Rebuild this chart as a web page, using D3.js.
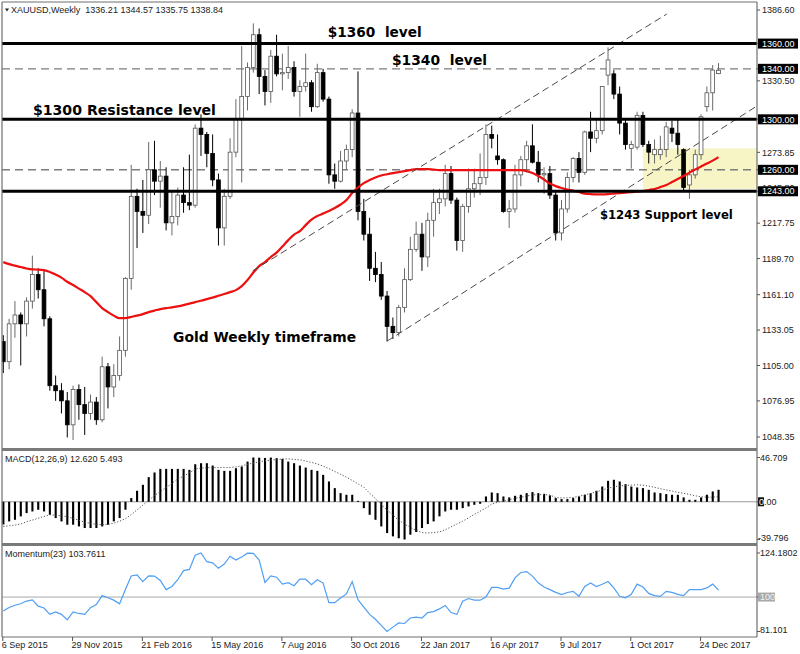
<!DOCTYPE html>
<html><head><meta charset="utf-8">
<script src="https://cdn.jsdelivr.net/npm/d3@7/dist/d3.min.js"></script>
<style>body{margin:0;background:#fff;}svg{display:block;}</style>
</head><body>
<svg id="c" width="800" height="654"></svg>
<script>
// ---------------- DATA ----------------
const symbolTitle = "XAUUSD,Weekly  1336.21 1344.57 1335.75 1338.84";
const openP = [1124,1108,1138,1145,1138,1156,1177,1165,1142,1089,
 1085,1077,1058,1086,1074,1067,1076,1062,1104,1088,
 1097,1117,1174,1239,1227,1224,1260,1251,1255,1218,
 1223,1240,1234,1232,1293,1288,1273,1252,1214,1239,
 1274,1300,1318,1341,1367,1334,1322,1350,1336,1337,
 1341,1322,1326,1329,1310,1337,1316,1256,1251,1267,
 1276,1305,1227,1209,1182,1177,1160,1136,1131,1151,
 1173,1197,1209,1191,1220,1234,1237,1257,1236,1204,
 1231,1245,1249,1254,1288,1271,1268,1227,1229,1256,
 1268,1279,1266,1256,1257,1240,1210,1229,1254,1269,
 1258,1290,1285,1291,1335,1336,1320,1297,1277,1278,
 1303,1280,1272,1272,1276,1293,1289,1276,1248,1256,
 1272,1310,1321,1336.21];
const highP = [1129,1142,1156,1147,1159,1192,1182,1180,1144,1097,
 1091,1084,1089,1090,1088,1082,1080,1112,1107,1106,
 1128,1175,1264,1245,1252,1282,1283,1267,1262,1244,
 1246,1262,1272,1296,1304,1290,1288,1257,1245,1285,
 1316,1358,1345,1376,1372,1339,1355,1367,1352,1358,
 1346,1331,1352,1331,1344,1340,1318,1265,1275,1280,
 1308,1338,1237,1222,1195,1187,1164,1143,1153,1182,
 1207,1219,1218,1226,1245,1245,1264,1263,1238,1233,
 1261,1261,1273,1296,1295,1288,1269,1236,1264,1271,
 1283,1296,1275,1262,1263,1243,1236,1258,1270,1274,
 1291,1306,1300,1326,1357,1339,1326,1300,1283,1306,
 1306,1283,1284,1287,1298,1299,1300,1277,1260,1276,
 1304,1326,1343,1344.57];
const lowP = [1099,1102,1127,1105,1128,1150,1158,1136,1085,1077,
 1067,1048,1046,1062,1050,1062,1058,1060,1071,1080,
 1093,1112,1165,1198,1210,1217,1240,1230,1212,1208,
 1216,1226,1228,1230,1271,1262,1247,1200,1200,1237,
 1270,1250,1307,1337,1320,1311,1313,1334,1323,1332,
 1318,1302,1322,1306,1309,1314,1249,1245,1250,1260,
 1270,1220,1204,1172,1171,1157,1124,1126,1128,1147,
 1172,1195,1180,1183,1207,1225,1231,1233,1196,1195,
 1226,1238,1240,1248,1277,1264,1226,1214,1226,1247,
 1258,1265,1250,1241,1237,1204,1204,1226,1250,1250,
 1256,1274,1281,1288,1327,1316,1288,1276,1261,1276,
 1278,1265,1265,1268,1270,1282,1272,1243,1237,1253,
 1268,1306,1307,1335.75];
const closeP = [1108,1138,1145,1138,1156,1177,1165,1142,1089,1085,
 1077,1058,1086,1074,1067,1076,1062,1104,1088,1097,
 1117,1174,1239,1227,1224,1260,1251,1255,1218,1223,
 1240,1234,1232,1293,1288,1273,1252,1214,1239,1274,
 1300,1318,1341,1367,1334,1322,1350,1336,1337,1341,
 1322,1326,1329,1310,1337,1316,1256,1251,1267,1276,
 1305,1227,1209,1182,1177,1160,1136,1131,1151,1173,
 1197,1209,1191,1220,1234,1237,1257,1236,1204,1231,
 1245,1249,1254,1288,1285,1268,1227,1229,1256,1268,
 1279,1266,1256,1257,1240,1210,1229,1254,1269,1258,
 1290,1285,1291,1326,1347,1320,1297,1280,1280,1303,
 1280,1274,1276,1276,1294,1289,1280,1246,1256,1272,
 1302,1321,1339,1338.84];
const maValues = [1186.9,1185.3,1184.1,1183.0,1181.8,1181.1,1181.0,1180.6,1179.0,1177.0,
 1174.6,1171.3,1168.7,1165.9,1163.1,1160.0,1155.2,1150.5,1147.3,1144.5,
 1142.5,1142.5,1143.5,1144.5,1145.7,1147.3,1148.5,1149.7,1150.5,1151.0,
 1151.8,1152.8,1154.0,1155.2,1156.3,1157.6,1158.8,1160.2,1161.6,1163.1,
 1164.7,1167.9,1172.7,1178.6,1183.7,1186.9,1190.9,1194.4,1199.2,1204.3,
 1208.7,1211.5,1216.2,1220.6,1223.4,1225.3,1227.3,1229.7,1232.5,1236.0,
 1241.6,1246.0,1249.5,1251.9,1253.9,1255.5,1256.5,1257.4,1258.2,1259.0,
 1259.8,1260.6,1260.6,1260.6,1260.2,1259.8,1259.8,1259.8,1259.8,1259.8,
 1259.8,1259.8,1259.8,1259.8,1259.8,1259.8,1259.8,1259.8,1259.8,1259.8,
 1259.0,1257.4,1255.1,1252.3,1249.1,1247.1,1245.6,1244.4,1243.6,1242.4,
 1241.2,1240.8,1240.6,1240.6,1240.8,1241.2,1241.6,1242.0,1242.4,1242.8,
 1243.2,1244.0,1244.8,1246.3,1247.9,1250.3,1252.7,1255.1,1257.8,1260.2,
 1262.6,1265.0,1267.3,1270.1];
const macdMain = [-24,-20.7,-19,-15.4,-11.9,-10.2,-8.4,-10.2,-13.7,-17.2,
 -20.7,-24.2,-24.2,-26,-27.7,-27.7,-27.7,-26,-24.2,-20.7,
 -17.2,-8.4,3.9,11.6,17.9,26,30.9,34.7,34.7,34.7,
 34.7,34.7,33.7,39.6,40.7,40.7,38.2,33.7,32.6,32.6,
 35.4,37.2,42.4,46.7,46.5,46.2,46.6,46,45.3,42.4,
 40.7,38.2,36.1,33.7,32.6,28.4,21.4,14.4,9.1,7.4,
 7.4,1,-6.7,-13.7,-19,-26,-33,-36.5,-38.5,-39.8,
 -34.7,-31.9,-27.7,-23.5,-20.7,-15.4,-10.2,-8.4,-8.4,-6.7,
 -4.9,-3.2,-2.1,5.6,9.8,9.1,5.6,4.6,6.3,7.4,
 9.1,10.2,9.1,8.4,6.7,3.9,2.8,2.8,3.9,5.6,
 7.4,9.1,11.6,16.1,22.1,23.2,21.4,18.6,16.1,15.1,
 14.4,12.6,9.8,9.1,8.1,7.4,7.4,4.6,2.1,2.1,
 4.6,7.4,10.9,12.62];
const macdSignal = [-26,-25.3,-24.6,-23.5,-21,-19.3,-17.4,-15.5,-13.7,-14.2,
 -14.8,-15.8,-17.5,-19.5,-21.5,-22.8,-23.8,-24.2,-23.8,-22.6,
 -20.5,-17.8,-13.5,-8.5,-3.5,1.5,6.5,10.9,15,19.5,
 24,27,30.5,34.5,35.6,35.9,36.1,36.1,36.1,36.1,
 36.8,38,39.5,40.8,42.2,43.2,43.9,44.6,45.1,45.3,
 44.8,44.2,43,41.5,40,37.6,35,32,29,26,
 22.5,19,15.5,9,3.5,-3,-8.5,-14,-19.5,-23.5,
 -27,-30,-32.5,-33,-32.5,-31.8,-29.5,-26.5,-23.5,-20.5,
 -17,-13.3,-10,-6.5,-2.5,-0.5,1,2,3.5,4.8,
 6,7.3,7.5,7.5,7.2,4.5,4,4.2,4.6,5.8,
 7.3,8.8,10.5,12.3,14.3,15.8,16.8,17.2,17.6,17.9,
 17.5,16.5,15.2,13.8,12.5,11.3,10.1,9,7.8,6.3,
 5.3,4.8,4.8,5.493];
const momentum = [92.3,94.3,95.5,96.3,97.8,98.5,95,94,90.5,91.8,
 90.5,87.5,91.8,91,90.5,94.2,95.9,100.8,99.6,98.3,
 96.3,104.1,111.6,112.2,108.5,111.6,111.5,109.1,104.1,105.8,
 109.5,114.5,115.2,123,124.18,119.4,118.8,115.8,118.1,122.4,
 120.3,122,124.1,124,120.3,108,111.6,110.9,107.1,107.9,
 106.2,109.8,109.8,106.8,109.5,107.7,96.9,96.9,99.5,101.7,
 108.5,98.6,94.5,90.5,87.8,84.5,81.1,83.5,85.8,85.5,
 88.5,89,88.5,91.5,92,93.5,95.4,91.5,90.5,97.7,
 99.2,98.3,98.3,100,105.3,105.3,104.4,104.9,110.5,113.5,
 114,111.5,107.8,105.5,104.1,102.6,101.4,102.5,103.1,100.4,
 105.8,107.7,105.8,107,108.5,105,100.4,99.6,101.5,107.1,
 105.5,102,100.8,100.4,103.1,102.6,101.5,100.8,104.1,104.1,
 104.1,105,107.1,103.7611];
const dateTickIndex = [0,12,24,36,48,60,72,84,96,108,120];
const dateTickLabels = ["6 Sep 2015","29 Nov 2015","21 Feb 2016","15 May 2016","7 Aug 2016","30 Oct 2016","22 Jan 2017","16 Apr 2017","9 Jul 2017","1 Oct 2017","24 Dec 2017"];
const priceTicks = [1386.60,1330.50,1273.85,1245.80,1217.75,1189.70,1161.10,1133.05,1105.00,1076.95,1048.35];
const solidLevels = [1360,1300,1243];
const dashedLevels = [1340,1260];
const boxedLevels = [1360,1340,1300,1260,1243];
const macdTicks = [46.709,-39.796];
const momTicks = [124.1802,81.101];
const zoneIndexStart = 110, zonePrices = [1277,1245];
const channelUpper = [[42.9,1180],[114.1,1383.4]];
const channelLower = [[66,1124.3],[129.6,1310.5]];
const notes = [
 {text:"$1360  level", i:55.8, p:1365.6, len:94, size:14},
 {text:"$1340  level", i:66.85, p:1343.4, len:95, size:14},
 {text:"$1300 Resistance level", i:5.1, p:1303.4, len:183, size:14},
 {text:"Gold Weekly timeframe", i:29.2, p:1123.9, len:183, size:14},
 {text:"$1243 Support level", i:102.6, p:1221.4, len:133, size:12}
];

// ---------------- LAYOUT ----------------
const L=2, R=757;
const MAIN_T=2, MAIN_B=448, MACD_T=451, MACD_B=543, MOM_T=546, MOM_B=637;
const FONT="'Liberation Sans', Arial, sans-serif";

const svg=d3.select('#c');
const n=openP.length;
const idx=d3.range(n);
const x=d3.scaleLinear().domain([0,123]).range([3.3,718.5]);
const y=d3.scaleLinear().domain([1048.35,1386.6]).range([437,10]);
const yM=d3.scaleLinear().domain([-39.796,46.709]).range([539.5,457.5]);
const yMo=d3.scaleLinear().domain([81.101,124.1802]).range([631.5,553]);

const defs=svg.append('defs');
defs.append('clipPath').attr('id','cm').append('rect').attr('x',L).attr('y',MAIN_T).attr('width',R-L).attr('height',MAIN_B-MAIN_T);
defs.append('clipPath').attr('id','cmacd').append('rect').attr('x',L).attr('y',MACD_T).attr('width',R-L).attr('height',MACD_B-MACD_T);
defs.append('clipPath').attr('id','cmom').append('rect').attr('x',L).attr('y',MOM_T).attr('width',R-L).attr('height',MOM_B-MOM_T);

// ---------- main panel ----------
const gm=svg.append('g').attr('clip-path','url(#cm)');
gm.append('rect').attr('x',x(zoneIndexStart)).attr('y',y(zonePrices[0]))
  .attr('width',R-x(zoneIndexStart)).attr('height',y(zonePrices[1])-y(zonePrices[0]))
  .attr('fill','#f7f4c6');
gm.selectAll('.dl').data(dashedLevels).join('line')
  .attr('x1',L).attr('x2',R).attr('y1',d=>y(d)).attr('y2',d=>y(d))
  .attr('stroke','#7d7d7d').attr('stroke-width',1.4).attr('stroke-dasharray','8,5');

// candles
const cg=gm.append('g');
idx.forEach(i=>{
  const o=openP[i],c=closeP[i],h=highP[i],lo=lowP[i];
  const bull=c>=o;
  cg.append('line').attr('x1',x(i)).attr('x2',x(i)).attr('y1',y(h)).attr('y2',y(lo))
    .attr('stroke',bull?'#6a6a6a':'#000').attr('stroke-width',1);
  const top=y(Math.max(o,c)), bot=y(Math.min(o,c));
  cg.append('rect').attr('x',x(i)-1.9).attr('width',3.8)
    .attr('y',top).attr('height',Math.max(1.2,bot-top))
    .attr('fill',bull?'#fff':'#000').attr('stroke',bull?'#555':'#000').attr('stroke-width',0.8);
});

// moving average
gm.append('path').datum(idx).attr('fill','none').attr('stroke','#ec1010').attr('stroke-width',2.2)
  .attr('d',d3.line().x(i=>x(i)).y(i=>y(maValues[i])).curve(d3.curveMonotoneX));

// channel lines
[channelUpper,channelLower].forEach(seg=>{
  gm.append('line').attr('x1',x(seg[0][0])).attr('y1',y(seg[0][1])).attr('x2',x(seg[1][0])).attr('y2',y(seg[1][1]))
    .attr('stroke','#4a4a4a').attr('stroke-width',1).attr('stroke-dasharray','7,4');
});

// solid levels
gm.selectAll('.sl').data(solidLevels).join('line')
  .attr('x1',L).attr('x2',R).attr('y1',d=>y(d)).attr('y2',d=>y(d))
  .attr('stroke','#000').attr('stroke-width',3);

// annotations
notes.forEach(nt=>{
  gm.append('text').attr('x',x(nt.i)).attr('y',y(nt.p)).text(nt.text)
    .style('white-space','pre').attr('font-family',"'DejaVu Sans', sans-serif").attr('font-weight','bold')
    .attr('font-size',nt.size).attr('textLength',nt.len).attr('lengthAdjust','spacingAndGlyphs').attr('fill','#000');
});

// ---------- MACD panel ----------
const gmc=svg.append('g').attr('clip-path','url(#cmacd)');
gmc.append('line').attr('x1',L).attr('x2',R).attr('y1',yM(0)).attr('y2',yM(0)).attr('stroke','#9a9a9a').attr('stroke-width',1);
gmc.selectAll('.mb').data(idx).join('rect')
  .attr('x',i=>x(i)-1).attr('width',2.1)
  .attr('y',i=>Math.min(yM(0),yM(macdMain[i]))).attr('height',i=>Math.abs(yM(macdMain[i])-yM(0)))
  .attr('fill','#000');
gmc.append('path').datum(idx).attr('fill','none').attr('stroke','#555').attr('stroke-width',1)
  .attr('stroke-dasharray','1.2,1.8')
  .attr('d',d3.line().x(i=>x(i)).y(i=>yM(macdSignal[i])));

// ---------- Momentum panel ----------
const gmo=svg.append('g').attr('clip-path','url(#cmom)');
gmo.append('line').attr('x1',L).attr('x2',R).attr('y1',yMo(100)).attr('y2',yMo(100)).attr('stroke','#a8a8a8').attr('stroke-width',1);
gmo.append('path').datum(idx).attr('fill','none').attr('stroke','#4f9ff3').attr('stroke-width',1.2)
  .attr('d',d3.line().x(i=>x(i)).y(i=>yMo(momentum[i])));

// ---------- frames ----------
const fr=svg.append('g').attr('stroke','#6e6e6e').attr('fill','none');
fr.append('line').attr('x1',L).attr('x2',R).attr('y1',MAIN_T).attr('y2',MAIN_T).attr('stroke-width',1);
fr.append('line').attr('x1',L).attr('x2',L).attr('y1',MAIN_T).attr('y2',MOM_B).attr('stroke-width',1.2);
fr.append('line').attr('x1',R).attr('x2',R).attr('y1',MAIN_T).attr('y2',MOM_B).attr('stroke-width',1.2);
fr.append('line').attr('x1',L).attr('x2',R).attr('y1',(MAIN_B+MACD_T)/2).attr('y2',(MAIN_B+MACD_T)/2).attr('stroke-width',3).attr('stroke','#7a7a7a');
fr.append('line').attr('x1',L).attr('x2',R).attr('y1',(MACD_B+MOM_T)/2).attr('y2',(MACD_B+MOM_T)/2).attr('stroke-width',3).attr('stroke','#7a7a7a');
fr.append('line').attr('x1',L).attr('x2',R).attr('y1',MOM_B).attr('y2',MOM_B).attr('stroke-width',1.2);

// ---------- header & labels ----------
svg.append('path').attr('d',d3.line()([[5,8.5],[9,8.5],[7,11.5]])+'Z').attr('fill','#222');
svg.append('text').attr('x',11).attr('y',13).text(symbolTitle).style('white-space','pre')
  .attr('font-family',FONT).attr('font-size',9).attr('fill','#222');
svg.append('text').attr('x',5).attr('y',462).text('MACD(12,26,9) 12.620 5.493')
  .attr('font-family',FONT).attr('font-size',9).attr('fill','#222');
svg.append('text').attr('x',5).attr('y',557).text('Momentum(23) 103.7611')
  .attr('font-family',FONT).attr('font-size',9).attr('fill','#222');

// ---------- price axis ----------
const ax=svg.append('g').attr('font-family',FONT).attr('font-size',9);
const allPriceTicks=priceTicks.concat(boxedLevels);
ax.selectAll('.pt').data(allPriceTicks).join('line')
  .attr('x1',R).attr('x2',R+3).attr('y1',d=>y(d)).attr('y2',d=>y(d)).attr('stroke','#555');
ax.selectAll('.ptl').data(priceTicks).join('text')
  .attr('x',762).attr('y',d=>y(d)+3.2).text(d=>d.toFixed(2)).attr('fill','#222');
boxedLevels.forEach(v=>{
  ax.append('rect').attr('x',758).attr('y',y(v)-5).attr('width',40).attr('height',10).attr('fill','#000');
  ax.append('text').attr('x',762).attr('y',y(v)+3.2).text(v.toFixed(2)).attr('fill','#fff');
});

// MACD axis
ax.selectAll('.mt').data(macdTicks.concat([0])).join('line')
  .attr('x1',R).attr('x2',R+3).attr('y1',d=>yM(d)).attr('y2',d=>yM(d)).attr('stroke','#555');
ax.append('text').attr('x',760).attr('y',yM(macdTicks[0])+3.2).text(macdTicks[0].toFixed(3)).attr('fill','#222');
ax.append('text').attr('x',758).attr('y',yM(macdTicks[1])+1.5).text(macdTicks[1].toFixed(3)).attr('fill','#222');
ax.append('rect').attr('x',758).attr('y',yM(0)-4.5).attr('width',6).attr('height',9).attr('fill','#111');
const zt=ax.append('text').attr('x',759).attr('y',yM(0)+3.2);
zt.append('tspan').text('0').attr('fill','#fff');
zt.append('tspan').text('.00').attr('fill','#222');

// Momentum axis
ax.selectAll('.mot').data(momTicks.concat([100])).join('line')
  .attr('x1',R).attr('x2',R+3).attr('y1',d=>yMo(d)).attr('y2',d=>yMo(d)).attr('stroke','#555');
ax.append('text').attr('x',760).attr('y',yMo(momTicks[0])+3.2).text(String(momTicks[0])).attr('fill','#222');
ax.append('text').attr('x',760).attr('y',yMo(momTicks[1])+1.5).text(String(momTicks[1])).attr('fill','#222');
ax.append('rect').attr('x',758).attr('y',yMo(100)-4.5).attr('width',17).attr('height',9).attr('fill','#a9a9a9');
ax.append('text').attr('x',760).attr('y',yMo(100)+3.2).text('100').attr('fill','#f4f4f4');

// ---------- time axis ----------
const tx=svg.append('g').attr('font-family',FONT).attr('font-size',9).attr('fill','#222');
tx.selectAll('line').data(dateTickIndex).join('line')
  .attr('x1',i=>x(i)-0.5).attr('x2',i=>x(i)-0.5).attr('y1',MOM_B).attr('y2',MOM_B+4).attr('stroke','#555');
tx.selectAll('text').data(dateTickIndex).join('text')
  .attr('x',i=>x(i)-1.5).attr('y',648).text((d,k)=>dateTickLabels[k]);
</script>
</body></html>
